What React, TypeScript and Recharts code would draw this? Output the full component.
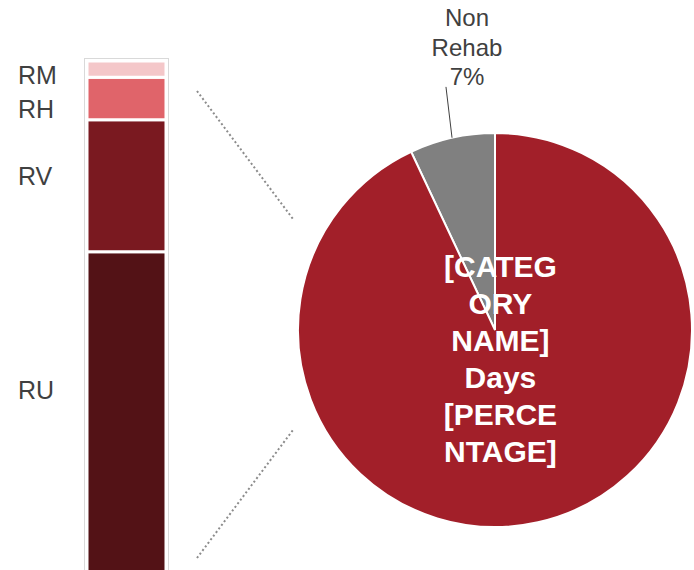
import React from "react";
import { BarChart, Bar, XAxis, YAxis, LabelList, PieChart, Pie, Cell } from "recharts";

// secondary bar: breakdown of the Rehab share (bottom to top)
const barCategories = ["RU", "RV", "RH", "RM"];
const barValues = [61.5, 21.8, 7, 2.7];
const barColors = ["#531216", "#7a1920", "#e0646a", "#f4c7c9"];

// main pie
const pieNames = ["Non Rehab", "Rehab"];
const pieValues = [7, 93];
const pieColors = ["#808080", "#a21f29"];
const nonRehabLabel = ["Non", "Rehab", "7%"];
const rehabLabel = ["[CATEG", "ORY", "NAME]", "Days", "[PERCE", "NTAGE]"];

const barRow: Record<string, any> = { name: "Rehab" };
barCategories.forEach((c, i) => (barRow[c] = barValues[i]));
const barData = [barRow];
const barTotal = barValues.reduce((a, b) => a + b, 0);

const pieData = pieNames.map((name, i) => ({ name, value: pieValues[i] }));

// layout / style
const FONT = "'Liberation Sans', Arial, sans-serif";
const TEXT = "#404040";
const BAR_TOP = 61;
const BAR_LEFT = 87;
const BAR_W = 79;
const BAR_PLOT_H = 563;
const BAND_PAD = 40;
const PIE_CX = 495;
const PIE_CY = 330;
const PIE_R = 197;
// Excel moved the category labels a little off the segment centres
const LABEL_NUDGE: Record<string, number> = { RU: -48, RV: -10, RH: 10, RM: 6 };

const RAD = Math.PI / 180;

function barLabel(cat: string) {
  return (props: any) => {
    const { y, height } = props;
    return (
      <text
        x={18}
        y={y + height / 2 + LABEL_NUDGE[cat]}
        textAnchor="start"
        dominantBaseline="central"
        fill={TEXT}
        fontSize={25}
        fontFamily={FONT}
      >
        {cat}
      </text>
    );
  };
}

function barFrame(props: any) {
  const { x, y, width, height } = props;
  return (
    <rect
      x={x - 2.5}
      y={y - 2.5}
      width={width + 5}
      height={height + 5}
      fill="none"
      stroke="#d9d9d9"
      strokeWidth={1}
    />
  );
}

function pieLabel(props: any) {
  const { cx, cy, midAngle, outerRadius, index } = props;
  const cos = Math.cos(-midAngle * RAD);
  const sin = Math.sin(-midAngle * RAD);
  if (index === 1) {
    const tx = cx + outerRadius * 0.15 * cos - 1;
    const ty = cy + outerRadius * 0.15 * sin;
    const lh = 37;
    const top = ty - ((rehabLabel.length - 1) * lh) / 2;
    return (
      <text
        textAnchor="middle"
        fill="#fff"
        fontSize={30}
        fontWeight="bold"
        fontFamily={FONT}
      >
        {rehabLabel.map((t, i) => (
          <tspan key={i} x={tx} y={top + i * lh} dominantBaseline="central">
            {t}
          </tspan>
        ))}
      </text>
    );
  }
  const sx = cx + outerRadius * cos;
  const sy = cy + outerRadius * sin;
  const ex = cx + (outerRadius + 51) * Math.cos(-101.4 * RAD);
  const ey = cy + (outerRadius + 51) * Math.sin(-101.4 * RAD);
  const lh = 29.5;
  const tx = ex + 21;
  const bottom = ey - 10;
  return (
    <g>
      <line x1={sx} y1={sy} x2={ex} y2={ey} stroke={TEXT} strokeWidth={1} />
      <text textAnchor="middle" fill={TEXT} fontSize={24} fontFamily={FONT}>
        {nonRehabLabel.map((t, i) => (
          <tspan
            key={i}
            x={tx}
            y={bottom - (nonRehabLabel.length - 1 - i) * lh}
            dominantBaseline="central"
          >
            {t}
          </tspan>
        ))}
      </text>
    </g>
  );
}

export default function App() {
  const chartH = BAR_TOP + BAR_PLOT_H;
  return (
    <div
      style={{
        position: "absolute",
        left: 0,
        top: 0,
        width: 694,
        height: 570,
        overflow: "hidden",
        background: "#fff",
      }}
    >
      <div style={{ position: "absolute", left: 0, top: 0 }}>
        <BarChart
          width={BAR_LEFT + BAR_W + BAND_PAD}
          height={chartH}
          data={barData}
          margin={{ top: BAR_TOP, right: 0, bottom: 0, left: BAR_LEFT - BAND_PAD }}
        >
          <XAxis dataKey="name" hide />
          <YAxis type="number" domain={[0, barTotal]} hide />
          {barCategories.map((c, i) => (
            <Bar
              key={c}
              dataKey={c}
              stackId="rehab"
              fill={barColors[i]}
              stroke="#fff"
              strokeWidth={3}
              barSize={BAR_W}
              background={i === 0 ? barFrame : undefined}
              isAnimationActive={false}
            >
              <LabelList dataKey={c} content={barLabel(c)} />
            </Bar>
          ))}
        </BarChart>
      </div>
      <div style={{ position: "absolute", left: 0, top: 0 }}>
        <PieChart width={694} height={570} margin={{ top: 0, right: 0, bottom: 0, left: 0 }}>
          <Pie
            data={pieData}
            dataKey="value"
            nameKey="name"
            cx={PIE_CX}
            cy={PIE_CY}
            outerRadius={PIE_R}
            startAngle={90}
            endAngle={450}
            stroke="#fff"
            strokeWidth={2}
            label={pieLabel}
            labelLine={false}
            isAnimationActive={false}
          >
            {pieData.map((d, i) => (
              <Cell key={d.name} fill={pieColors[i]} />
            ))}
          </Pie>
        </PieChart>
      </div>
      <svg
        width={694}
        height={570}
        style={{ position: "absolute", left: 0, top: 0, pointerEvents: "none" }}
      >
        {/* bar-of-pie connectors */}
        <line x1={197} y1={91} x2={293} y2={219} stroke="#8c8c8c" strokeWidth={2} strokeDasharray="2 2.5" />
        <line x1={197} y1={558} x2={293} y2={430} stroke="#8c8c8c" strokeWidth={2} strokeDasharray="2 2.5" />
      </svg>
    </div>
  );
}
